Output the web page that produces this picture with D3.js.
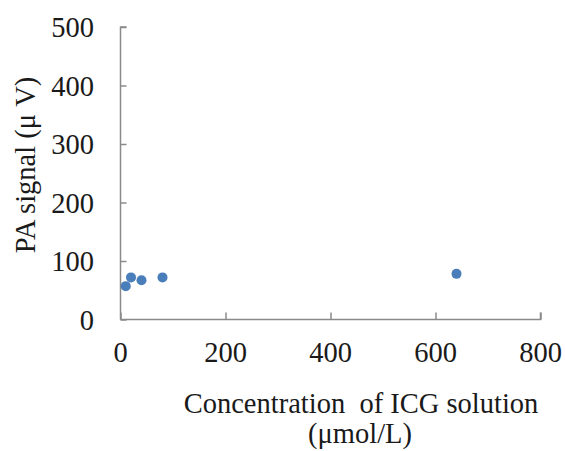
<!DOCTYPE html>
<html>
<head>
<meta charset="utf-8">
<script src="https://cdn.jsdelivr.net/npm/d3@7"></script>
<style>
  html, body { margin: 0; padding: 0; background: #fff; }
  svg text { font-family: "Liberation Serif", "Times New Roman", serif; fill: #1a1a1a; }
</style>
</head>
<body>
<svg id="chart" width="565" height="451"></svg>
<script>
// ICG concentration (µmol/L) vs. photoacoustic signal (µV)
const concentration = [10, 20, 40, 80, 640];
const paSignal = [57, 72, 67, 72, 78];
const xTicks = [0, 200, 400, 600, 800];
const yTicks = [0, 100, 200, 300, 400, 500];

const svg = d3.select("#chart");
const plot = { left: 120.5, right: 540.5, top: 27, bottom: 319.5 };

const x = d3.scaleLinear().domain([0, 800]).range([plot.left, plot.right]);
const y = d3.scaleLinear().domain([0, 500]).range([plot.bottom, plot.top]);

const axisColor = "#8a8a8a";
const fontSize = 28.5;

// y axis: ticks point inward
const yAxis = svg.append("g")
  .attr("transform", `translate(${plot.left},0)`)
  .call(d3.axisRight(y).tickValues(yTicks).tickSize(6).tickFormat(""));
yAxis.selectAll("path, line").attr("stroke", axisColor).attr("stroke-width", 1.5);
yAxis.select(".domain").attr("d", `M6,${plot.top}H0V${plot.bottom}`);

svg.append("g").selectAll("text")
  .data(yTicks).join("text")
  .attr("x", 94)
  .attr("y", d => y(d) + 10)
  .attr("text-anchor", "end")
  .attr("font-size", fontSize)
  .text(d => d);

// x axis: ticks point upward
const xAxis = svg.append("g")
  .attr("transform", `translate(0,${plot.bottom})`)
  .call(d3.axisTop(x).tickValues(xTicks).tickSize(7).tickFormat(""));
xAxis.selectAll("path, line").attr("stroke", axisColor).attr("stroke-width", 1.5);
xAxis.select(".domain").attr("d", `M${plot.left},0H${plot.right}V-7`);

svg.append("g").selectAll("text")
  .data(xTicks).join("text")
  .attr("x", d => x(d))
  .attr("y", 362)
  .attr("text-anchor", "middle")
  .attr("font-size", fontSize)
  .text(d => d);

// axis titles
svg.append("text")
  .attr("transform", "translate(35,165) rotate(-90)")
  .attr("text-anchor", "middle")
  .attr("font-size", fontSize)
  .text("PA signal (μ V)");

svg.append("text")
  .attr("x", 361)
  .attr("y", 413)
  .attr("text-anchor", "middle")
  .attr("font-size", fontSize)
  .attr("xml:space", "preserve")
  .text("Concentration  of ICG solution");

svg.append("text")
  .attr("x", 360)
  .attr("y", 443)
  .attr("text-anchor", "middle")
  .attr("font-size", fontSize)
  .text("(μmol/L)");

// data points
svg.append("g").selectAll("circle")
  .data(concentration.map((c, i) => ({ c, v: paSignal[i] })))
  .join("circle")
  .attr("cx", d => x(d.c))
  .attr("cy", d => y(d.v))
  .attr("r", 5)
  .attr("fill", "#4a7ebb");
</script>
</body>
</html>
